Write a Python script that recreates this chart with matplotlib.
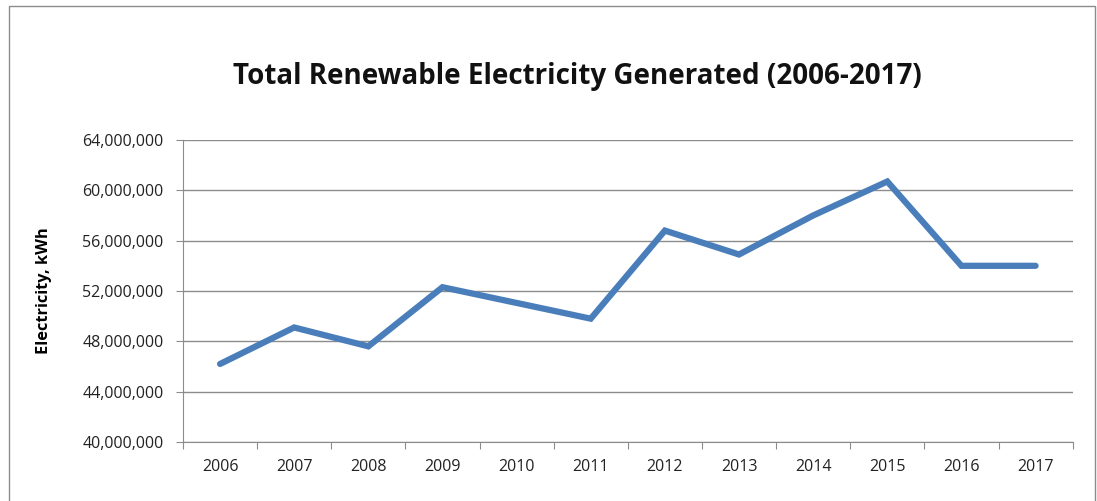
import matplotlib
matplotlib.use('Agg')
import matplotlib.pyplot as plt
from matplotlib.patches import Rectangle
from matplotlib.ticker import FuncFormatter, MultipleLocator

# data
years = ['2006', '2007', '2008', '2009', '2010', '2011',
         '2012', '2013', '2014', '2015', '2016', '2017']
electricity = [46200000, 49100000, 47600000, 52300000, 51050000, 49800000,
               56800000, 54900000, 58000000, 60700000, 54000000, 54000000]

plt.rcParams['font.family'] = ['Open Sans', 'DejaVu Sans']

fig = plt.figure(figsize=(10.97, 5.01), dpi=100)
ax = fig.add_axes([0.1668, 0.1178, 0.811, 0.6028])

# outer chart border
fig.patches.append(Rectangle((0.008, -0.01), 0.99, 0.998, transform=fig.transFigure,
                             fill=False, edgecolor='#8c8c8c', linewidth=1))

x = list(range(len(years)))
ax.plot(x, electricity, color='#4a7ebb', linewidth=4.5, solid_joinstyle='miter',
        solid_capstyle='round')

ax.set_xlim(-0.5, len(years) - 0.5)
ax.set_ylim(40000000, 64000000)
ax.yaxis.set_major_locator(MultipleLocator(4000000))
ax.yaxis.set_major_formatter(FuncFormatter(lambda v, p: f'{int(v):,}'))
ax.grid(axis='y', color='#8c8c8c', linewidth=1)
ax.set_axisbelow(True)

# ticks between categories, labels centred
ax.set_xticks([i - 0.5 for i in range(len(years) + 1)])
ax.set_xticklabels([])
ax.set_xticks(x, minor=True)
ax.set_xticklabels(years, minor=True)
ax.tick_params(axis='x', which='minor', length=0, pad=12, labelsize=11.5, colors='#222222')
ax.tick_params(axis='x', which='major', length=5, color='#8c8c8c')
ax.tick_params(axis='y', length=5, color='#8c8c8c', labelsize=11.5, labelcolor='#222222', pad=9)

for s in ['top', 'right']:
    ax.spines[s].set_visible(False)
ax.spines['left'].set_color('#8c8c8c')
ax.spines['bottom'].set_color('#8c8c8c')

ax.set_ylabel('Electricity, kWh', fontsize=11.8, fontweight='bold')
ax.yaxis.set_label_coords(-0.147, 0.5)

fig.text(0.526, 0.848, 'Total Renewable Electricity Generated (2006-2017)',
         ha='center', va='center', fontsize=20, fontweight='bold', color='#111111')

fig.savefig('out.png', dpi=100)
